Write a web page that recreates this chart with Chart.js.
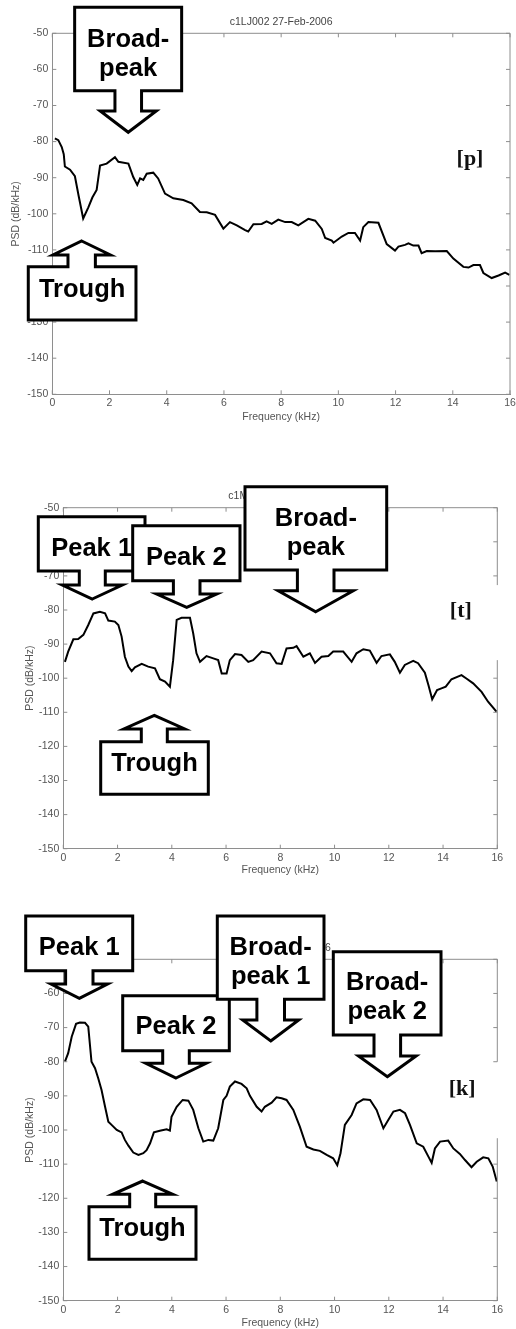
<!DOCTYPE html>
<html>
<head>
<meta charset="utf-8">
<title>PSD spectra</title>
<script src="https://cdn.jsdelivr.net/npm/chart.js@4.4.1/dist/chart.umd.min.js"></script>
<style>
  html, body { margin: 0; padding: 0; background: #ffffff; }
  #wrap { position: relative; width: 516px; height: 1329px; }
  canvas { position: absolute; left: 0; }
</style>
</head>
<body>
<div id="wrap">
  <canvas id="cP" width="516" height="440" style="top:0px"></canvas>
  <canvas id="cT" width="516" height="440" style="top:440px"></canvas>
  <canvas id="cK" width="516" height="449" style="top:880px"></canvas>
</div>
<script>
// ---- axis ticks ----
const xTicks = [0, 2, 4, 6, 8, 10, 12, 14, 16];
const yTicks = [-150, -140, -130, -120, -110, -100, -90, -80, -70, -60, -50];

// ---- spectrum [p] ----
const freqP = [0.09, 0.21, 0.33, 0.40, 0.44, 0.62, 0.79, 0.92, 1.08, 1.26, 1.40, 1.55, 1.67, 1.90, 2.19, 2.31,
  2.66, 2.83, 2.97, 3.07, 3.18, 3.30, 3.53, 3.70, 3.94, 4.23, 4.58, 4.87, 5.16, 5.40, 5.69, 5.98,
  6.21, 6.45, 6.74, 6.85, 7.03, 7.32, 7.49, 7.67, 7.90, 8.14, 8.37, 8.60, 8.95, 9.19, 9.42, 9.54,
  9.77, 9.83, 10.12, 10.35, 10.58, 10.76, 10.87, 11.05, 11.40, 11.69, 11.98, 12.10, 12.33, 12.45, 12.62, 12.80,
  12.91, 13.09, 13.38, 13.79, 14.02, 14.37, 14.55, 14.72, 14.95, 15.07, 15.36, 15.60, 15.83, 15.98];
const psdP = [-79.1, -79.6, -81.5, -83.5, -86.9, -87.8, -89.6, -95.0, -101.3, -98.2, -95.5, -93.4, -86.6, -86.1, -84.3, -85.6,
  -86.1, -89.8, -92.0, -90.2, -90.6, -88.9, -88.6, -90.2, -94.4, -95.7, -96.2, -97.1, -99.5, -99.6, -100.3, -104.1,
  -102.3, -103.2, -104.5, -104.9, -102.9, -102.8, -102.1, -102.8, -101.6, -102.3, -102.3, -103.2, -101.4, -101.9, -104.2, -106.7,
  -107.4, -108.0, -106.3, -105.3, -105.3, -107.4, -103.7, -102.3, -102.5, -108.4, -110.2, -109.1, -108.6, -108.2, -108.8, -108.8,
  -110.9, -110.3, -110.4, -110.3, -112.4, -114.7, -114.9, -114.2, -114.2, -116.4, -117.8, -117.1, -116.3, -116.9];

// ---- spectrum [t] ----
const freqT = [0.06, 0.18, 0.37, 0.55, 0.74, 0.92, 1.11, 1.35, 1.54, 1.66, 1.90, 2.03, 2.15, 2.27, 2.40, 2.52,
  2.64, 2.89, 3.13, 3.38, 3.56, 3.75, 3.93, 4.05, 4.18, 4.36, 4.67, 4.79, 4.91, 5.04, 5.28, 5.53,
  5.71, 5.84, 6.02, 6.14, 6.33, 6.57, 6.82, 7.00, 7.31, 7.62, 7.86, 8.05, 8.23, 8.48, 8.60, 8.85,
  9.09, 9.28, 9.52, 9.77, 9.95, 10.32, 10.63, 10.81, 11.06, 11.30, 11.55, 11.73, 12.04, 12.22, 12.41, 12.59,
  12.90, 13.08, 13.33, 13.46, 13.60, 13.78, 13.94, 14.10, 14.31, 14.68, 14.86, 15.11, 15.42, 15.66, 15.97];
const psdT = [-95.2, -92.2, -88.6, -88.5, -87.3, -84.4, -81.0, -80.5, -81.0, -83.1, -83.4, -84.4, -87.8, -93.7, -96.6, -97.9,
  -96.8, -95.8, -96.6, -97.1, -100.3, -101.0, -102.5, -94.7, -82.9, -82.3, -82.3, -86.9, -92.7, -95.2, -93.5, -94.2,
  -94.7, -98.6, -98.6, -94.7, -92.9, -93.2, -95.2, -94.7, -92.2, -92.7, -95.6, -95.8, -91.3, -91.1, -90.6, -93.7,
  -92.7, -95.5, -93.7, -93.5, -92.2, -92.2, -95.2, -92.7, -91.5, -91.9, -95.5, -93.5, -93.0, -95.2, -98.4, -96.1,
  -94.9, -95.6, -98.4, -102.0, -106.2, -103.5, -103.0, -102.5, -100.3, -99.1, -100.1, -101.5, -104.0, -106.9, -109.8];

// ---- spectrum [k] ----
const freqK = [0.06, 0.18, 0.31, 0.47, 0.61, 0.80, 0.92, 1.04, 1.17, 1.29, 1.41, 1.54, 1.66, 1.78, 1.97, 2.15,
  2.27, 2.40, 2.58, 2.77, 2.95, 3.07, 3.20, 3.34, 3.56, 3.81, 3.93, 3.99, 4.18, 4.40, 4.61, 4.79,
  4.98, 5.16, 5.35, 5.53, 5.71, 5.90, 6.02, 6.14, 6.33, 6.57, 6.76, 6.88, 7.13, 7.31, 7.43, 7.68,
  7.86, 8.05, 8.23, 8.48, 8.72, 8.97, 9.22, 9.46, 9.71, 9.95, 10.10, 10.22, 10.38, 10.63, 10.81, 11.06,
  11.31, 11.55, 11.80, 11.98, 12.17, 12.41, 12.60, 12.78, 13.03, 13.27, 13.46, 13.58, 13.70, 13.89, 14.19, 14.38,
  14.62, 14.81, 15.05, 15.24, 15.48, 15.67, 15.83, 15.98];
const psdK = [-80.0, -77.5, -72.7, -68.9, -68.5, -68.6, -69.7, -80.0, -81.9, -84.9, -88.3, -93.2, -97.6, -98.5, -100.0, -100.7,
  -102.9, -104.6, -106.6, -107.3, -106.8, -105.9, -103.9, -100.7, -100.2, -99.8, -100.2, -96.1, -93.2, -91.2, -91.4, -94.1,
  -99.5, -103.4, -102.9, -103.1, -99.5, -91.2, -90.0, -87.3, -85.8, -86.5, -87.8, -90.0, -93.2, -94.6, -93.2, -92.0,
  -90.4, -90.7, -91.2, -94.1, -99.0, -104.9, -105.7, -106.1, -107.3, -108.3, -110.3, -106.8, -98.5, -95.6, -92.2, -91.0,
  -91.2, -94.1, -99.5, -97.1, -94.6, -94.1, -95.1, -98.5, -103.9, -104.9, -107.8, -109.6, -105.4, -103.4, -103.1, -105.4,
  -107.0, -108.8, -110.9, -109.3, -108.0, -108.3, -110.7, -115.1];

// ---- text ----
const xAxisTitle = 'Frequency (kHz)';
const yAxisTitle = 'PSD (dB/kHz)';

// ---- styling ----
const AXIS = '#8e8e8e';
const TICK = '#555555';
const SANS = "'Liberation Sans', Arial, Helvetica, sans-serif";
const SERIF = "'Liberation Serif', 'Times New Roman', serif";

// Callout arrows: tip anchored at a data point (kHz, dB); shape sizes in px.
// head:[length, half width], stem:[length, half width], box:[left, right, height] relative to the tip,
// text: baselines measured from the box's top edge.
const panels = [
  {
    id: 'cP', data: [freqP, psdP], tag: '[p]', tagAt: [470, 164.7],
    area: { left: 52.3, right: 510, top: 33.3, bottom: 394.3 }, xTitleBottom: 422.25, yTitleX: 16.5,
    title: { text: 'c1LJ002 27-Feb-2006', align: 'center', dx: 0 },
    rightGap: null,
    callouts: [
      { lines: ['Broad-', 'peak'], at: [2.655, -77.42], dir: 'down', head: [21.3, 28], stem: [20.3, 13.3], box: [-53.6, 53.4, 83.4], text: [39.4, 68.7] },
      { lines: ['Trough'], at: [1.027, -107.53], dir: 'up', head: [14, 28.8], stem: [11.7, 13.7], box: [-53.4, 54.3, 53.3], text: [30] }
    ]
  },
  {
    id: 'cT', data: [freqT, psdT], tag: '[t]', tagAt: [460.8, 176.7],
    area: { left: 63.3, right: 497.3, top: 67.7, bottom: 408.7 }, xTitleBottom: 435.75, yTitleX: 30.5,
    title: { text: 'c1M', align: 'left', dx: -52 },
    rightGap: [-72.7, -94.7],
    callouts: [
      { lines: ['Peak 1'], at: [1.069, -76.77], dir: 'down', head: [14, 30], stem: [14, 13], box: [-54, 52.7, 54.3], text: [39] },
      { lines: ['Peak 2'], at: [4.549, -79.21], dir: 'down', head: [13.3, 30], stem: [13.3, 13.3], box: [-54, 53.3, 55], text: [39.3] },
      { lines: ['Broad-', 'peak'], at: [9.305, -80.5], dir: 'down', head: [21, 37.5], stem: [20.7, 18.3], box: [-70.7, 71, 83.3], text: [39.3, 68.3] },
      { lines: ['Trough'], at: [3.355, -110.88], dir: 'up', head: [13.7, 30.5], stem: [12.7, 13], box: [-53.6, 54, 52.6], text: [29.3] }
    ]
  },
  {
    id: 'cK', data: [freqK, psdK], tag: '[k]', tagAt: [462.2, 214.7],
    area: { left: 63.3, right: 497.3, top: 79.3, bottom: 420.7 }, xTitleBottom: 448.75, yTitleX: 30.5,
    title: { text: '6', align: 'right', dx: 50.5 },
    rightGap: [-80, -102.4],
    callouts: [
      { lines: ['Peak 1'], at: [0.59, -61.42], dir: 'down', head: [14.3, 28.3], stem: [13.3, 13.7], box: [-53.6, 53.4, 54.7], text: [39] },
      { lines: ['Peak 2'], at: [4.155, -84.77], dir: 'down', head: [14.7, 30.2], stem: [12.6, 13.3], box: [-53.3, 53.3, 55], text: [38.6] },
      { lines: ['Broad-', 'peak 1'], at: [7.646, -73.93], dir: 'down', head: [21, 28], stem: [20.7, 13.8], box: [-53.4, 53.3, 83.3], text: [39, 68] },
      { lines: ['Broad-', 'peak 2'], at: [11.945, -84.39], dir: 'down', head: [20.7, 28.8], stem: [21, 13.3], box: [-54, 53.7, 83.3], text: [38.3, 67.3] },
      { lines: ['Trough'], at: [2.927, -114.94], dir: 'up', head: [13.3, 30], stem: [12.4, 13], box: [-53.7, 53.3, 52.6], text: [29.3] }
    ]
  }
];

function drawCallout(ctx, c, xs, ys) {
  const tx = xs.getPixelForValue(c.at[0]);
  const ty = ys.getPixelForValue(c.at[1]);
  const s = c.dir === 'down' ? -1 : 1;
  const [hl, hh] = c.head, [sl, sh] = c.stem, [bl, br, bh] = c.box;
  const yBase = ty + s * hl, yStem = yBase + s * sl, yFar = yStem + s * bh;
  ctx.beginPath();
  ctx.moveTo(tx, ty);
  ctx.lineTo(tx + hh, yBase);
  ctx.lineTo(tx + sh, yBase);
  ctx.lineTo(tx + sh, yStem);
  ctx.lineTo(tx + br, yStem);
  ctx.lineTo(tx + br, yFar);
  ctx.lineTo(tx + bl, yFar);
  ctx.lineTo(tx + bl, yStem);
  ctx.lineTo(tx - sh, yStem);
  ctx.lineTo(tx - sh, yBase);
  ctx.lineTo(tx - hh, yBase);
  ctx.closePath();
  ctx.fillStyle = '#ffffff';
  ctx.fill();
  ctx.lineWidth = 3;
  ctx.lineJoin = 'miter';
  ctx.strokeStyle = '#000000';
  ctx.stroke();
  const top = Math.min(yStem, yFar);
  ctx.fillStyle = '#000000';
  ctx.font = 'bold 25.5px ' + SANS;
  ctx.textAlign = 'center';
  ctx.textBaseline = 'alphabetic';
  c.lines.forEach((t, i) => ctx.fillText(t, tx + (bl + br) / 2, top + c.text[i]));
}

function decor(p) {
  return {
    id: 'psdDecor',
    afterDraw(chart) {
      const { ctx, chartArea: a, scales: { x, y } } = chart;
      ctx.save();
      ctx.strokeStyle = AXIS;
      ctx.lineWidth = 1;
      // top edge and right edge of the axes box
      ctx.beginPath();
      ctx.moveTo(a.left, a.top);
      ctx.lineTo(a.right, a.top);
      if (p.rightGap) {
        const g0 = y.getPixelForValue(p.rightGap[0]), g1 = y.getPixelForValue(p.rightGap[1]);
        ctx.lineTo(a.right, g0);
        ctx.moveTo(a.right, g1);
      }
      ctx.lineTo(a.right, a.bottom);
      ctx.stroke();
      // inward tick marks on all four sides
      ctx.beginPath();
      xTicks.forEach(v => {
        const px = x.getPixelForValue(v);
        ctx.moveTo(px, a.bottom); ctx.lineTo(px, a.bottom - 4);
        ctx.moveTo(px, a.top); ctx.lineTo(px, a.top + 4);
      });
      yTicks.forEach(v => {
        const py = y.getPixelForValue(v);
        ctx.moveTo(a.left, py); ctx.lineTo(a.left + 4, py);
        const hidden = p.rightGap && v < p.rightGap[0] && v > p.rightGap[1];
        if (!hidden) { ctx.moveTo(a.right, py); ctx.lineTo(a.right - 4, py); }
      });
      ctx.stroke();
      // plot title
      ctx.fillStyle = '#444444';
      ctx.font = '10.5px ' + SANS;
      ctx.textAlign = p.title.align;
      ctx.textBaseline = 'middle';
      ctx.fillText(p.title.text, (a.left + a.right) / 2 + p.title.dx, a.top - 11.3);
      // panel tag
      ctx.fillStyle = '#111111';
      ctx.font = 'bold 22px ' + SERIF;
      ctx.textAlign = 'center';
      ctx.textBaseline = 'alphabetic';
      ctx.fillText(p.tag, p.tagAt[0], p.tagAt[1]);
      // callouts
      p.callouts.forEach(c => drawCallout(ctx, c, x, y));
      ctx.restore();
    }
  };
}

panels.forEach(p => {
  const canvas = document.getElementById(p.id);
  const W = canvas.width, H = canvas.height;
  const points = p.data[0].map((f, i) => ({ x: f, y: p.data[1][i] }));
  new Chart(canvas, {
    type: 'line',
    data: {
      datasets: [{
        data: points,
        borderColor: '#000000',
        borderWidth: 2,
        pointRadius: 0,
        pointHoverRadius: 0,
        tension: 0,
        fill: false
      }]
    },
    options: {
      responsive: false,
      animation: false,
      devicePixelRatio: 1,
      events: [],
      layout: { padding: { left: 0, top: p.area.top, right: W - p.area.right, bottom: H - p.xTitleBottom } },
      plugins: { legend: { display: false }, tooltip: { enabled: false }, title: { display: false } },
      scales: {
        x: {
          type: 'linear', min: 0, max: 16,
          afterBuildTicks: s => { s.ticks = xTicks.map(v => ({ value: v })); },
          afterFit: s => { s.height = p.xTitleBottom - p.area.bottom; s.paddingLeft = 0; s.paddingRight = 0; },
          ticks: { color: TICK, font: { family: SANS, size: 10.5 }, padding: 3, maxRotation: 0, autoSkip: false },
          grid: { display: false, drawTicks: false },
          border: { display: true, color: AXIS, width: 1 },
          title: { display: true, text: xAxisTitle, color: TICK, font: { family: SANS, size: 10.5, lineHeight: 1 }, padding: { top: 0, bottom: 0 } }
        },
        y: {
          type: 'linear', min: -150, max: -50,
          afterBuildTicks: s => { s.ticks = yTicks.map(v => ({ value: v })); },
          afterFit: s => { s.width = p.area.left; s.paddingTop = 0; s.paddingBottom = 0; },
          ticks: { color: TICK, font: { family: SANS, size: 10.5 }, padding: 4, autoSkip: false },
          grid: { display: false, drawTicks: false },
          border: { display: true, color: AXIS, width: 1 },
          title: { display: true, text: yAxisTitle, color: TICK, font: { family: SANS, size: 10.5, lineHeight: 1 }, padding: { top: p.yTitleX - 5.25, bottom: 0 } }
        }
      }
    },
    plugins: [decor(p)]
  });
});
</script>
</body>
</html>
